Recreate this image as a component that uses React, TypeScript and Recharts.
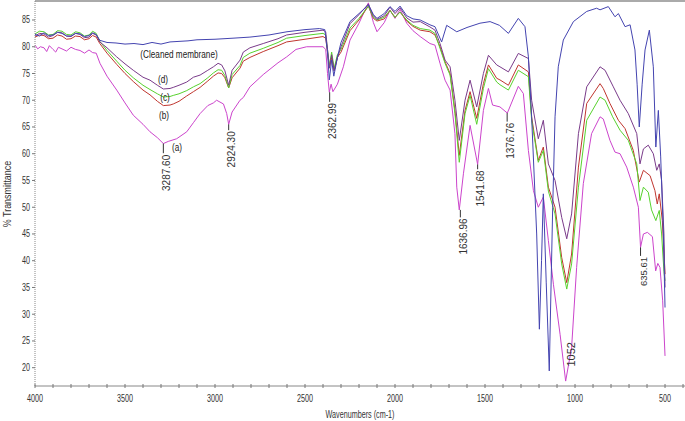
import React from 'react';
import { LineChart, Line, XAxis, YAxis, ReferenceLine, ReferenceDot } from 'recharts';

// [wavenumber (cm-1), % transmittance]
const cleaned: [number, number][] = [
  [4000, 82.3], [3975, 82.0], [3950, 82.6], [3925, 82.1], [3900, 82.2], [3875, 82.7], [3850, 82.5], [3825, 82.0],
  [3800, 82.0], [3775, 82.5], [3750, 82.4], [3725, 81.9], [3700, 82.1], [3680, 82.6], [3660, 82.3],
  [3640, 81.2], [3600, 80.8], [3550, 80.7], [3500, 80.5], [3450, 80.6], [3400, 80.4], [3350, 80.8], [3300, 80.5],
  [3250, 80.9], [3200, 81.0], [3150, 81.1], [3100, 81.3], [3000, 81.4], [2900, 81.6], [2806, 81.8], [2700, 82.2],
  [2600, 82.8], [2500, 83.2], [2420, 83.4], [2390, 83.2], [2375, 79], [2365, 73.8], [2352, 77.5], [2340, 74.5],
  [2320, 78], [2300, 80.8], [2250, 84.7], [2200, 86.2], [2148, 87.8], [2120, 86], [2100, 85.3], [2060, 86.2],
  [2028, 87.5], [2000, 86.6], [1972, 87.6], [1935, 85.8], [1900, 85.2], [1860, 85], [1806, 84.1], [1778, 83.75],
  [1741, 80.9], [1713, 84], [1657, 82.8], [1600, 83.6], [1528, 84.4], [1472, 84.7], [1420, 84], [1370, 82.5],
  [1315, 85.3], [1278, 83.75], [1259, 78.1], [1241, 66.9], [1213, 45], [1198, 27.2], [1186, 40], [1176, 52.5],
  [1160, 36], [1143, 19.4], [1124, 50], [1111, 66.9], [1093, 76.25], [1065, 81.25], [1009, 84.7], [935, 86.6],
  [880, 87.2], [861, 86.9], [815, 87.5], [778, 85.6], [759, 86.2], [722, 83.75], [694, 84.1], [667, 79.4],
  [655, 73], [643, 65], [627, 73], [611, 79.4], [587, 83.1], [565, 76.25], [551, 61.25], [537, 68.1],
  [524, 59.4], [509, 45], [500, 31.25],
];

const seriesD: [number, number][] = [
  [4000, 82.0], [3975, 82.5], [3950, 82.4], [3925, 81.8], [3900, 82.1], [3875, 82.7], [3850, 82.6], [3825, 82.0],
  [3800, 81.9], [3775, 82.5], [3750, 82.3], [3725, 81.7], [3700, 81.8], [3680, 82.5], [3660, 82.2],
  [3640, 80.9], [3600, 79.8], [3546, 78.1], [3500, 76.8], [3454, 75.6], [3400, 74.3], [3361, 73.75], [3320, 72.8],
  [3287, 72.1], [3250, 72.2], [3232, 72.4], [3200, 72.8], [3157, 73.4], [3120, 74.3], [3083, 74.7], [3040, 75.6],
  [3009, 76.25], [2983, 76.9], [2963, 76.6], [2945, 75.5], [2924, 72.8], [2905, 75.6], [2861, 77.5], [2843, 79],
  [2806, 79.8], [2732, 80.6], [2650, 81.5], [2602, 82.2], [2500, 82.7], [2400, 83.1], [2385, 82.8], [2375, 79.5],
  [2365, 76], [2352, 78.5], [2338, 75.5], [2320, 78], [2300, 80], [2250, 84.3], [2200, 86], [2148, 88],
  [2120, 85.8], [2100, 85.1], [2060, 85.8], [2028, 87.4], [2000, 86.2], [1972, 87.3], [1935, 85.4], [1900, 84.6],
  [1860, 84.7], [1806, 83.7], [1778, 83.1], [1750, 80.6], [1722, 77.5], [1694, 76.25], [1667, 70], [1643, 62.5],
  [1611, 70], [1583, 73.75], [1546, 68.75], [1509, 75], [1481, 78.4], [1435, 76.6], [1417, 76.25], [1370, 75.3],
  [1315, 78.75], [1259, 77.8], [1241, 70], [1204, 62.8], [1176, 66.25], [1148, 58.1], [1111, 55], [1074, 48.1],
  [1046, 44.1], [1019, 48.75], [981, 63.75], [935, 72.5], [861, 76.25], [833, 75.6], [787, 72.5], [750, 70],
  [704, 67.5], [657, 63.75], [639, 58.1], [620, 60.9], [593, 61.6], [565, 60], [546, 56.9], [532, 58.1],
  [519, 55], [506, 45], [500, 35],
];

const seriesC: [number, number][] = [
  [4000, 82.4], [3975, 82.9], [3950, 82.8], [3925, 82.2], [3900, 82.3], [3875, 83.0], [3850, 82.9], [3825, 82.3],
  [3800, 82.2], [3775, 82.8], [3750, 82.6], [3725, 82.0], [3700, 82.2], [3680, 82.9], [3660, 82.5],
  [3640, 81], [3600, 79.3], [3546, 77.3], [3500, 75.6], [3454, 74.2], [3400, 72.8], [3361, 72], [3320, 71.2],
  [3287, 70.6], [3250, 70.7], [3232, 70.9], [3200, 71.2], [3157, 71.8], [3120, 72.5], [3083, 73.1], [3040, 74.2],
  [3009, 75.1], [2983, 75.7], [2963, 75.6], [2945, 74.6], [2924, 72.3], [2905, 74.8], [2861, 76.5], [2843, 78],
  [2806, 78.8], [2732, 79.7], [2650, 80.8], [2602, 81.6], [2500, 82.1], [2400, 82.5], [2385, 82.2], [2375, 79.5],
  [2365, 76.5], [2352, 79], [2338, 76], [2320, 78.5], [2300, 79.5], [2250, 83.5], [2200, 85.3], [2148, 87.6],
  [2120, 85.5], [2100, 85], [2060, 85.5], [2028, 86.8], [2000, 85.5], [1972, 86.5], [1935, 85], [1900, 84],
  [1860, 83.4], [1806, 83.1], [1778, 82.5], [1750, 79.7], [1722, 76.9], [1694, 74.7], [1667, 67.5], [1643, 58.4],
  [1611, 67.5], [1583, 70.9], [1546, 65.5], [1509, 72.2], [1481, 75.9], [1435, 73.4], [1417, 72.9], [1370, 71.9],
  [1315, 75.6], [1259, 74.4], [1241, 66.25], [1204, 58.4], [1176, 60.6], [1148, 53], [1111, 48.75], [1074, 39.4],
  [1046, 34.7], [1019, 39.4], [981, 53.75], [935, 66.25], [861, 70.6], [833, 70], [791, 66.9], [750, 64.4],
  [704, 62.5], [657, 58.1], [639, 51.25], [620, 53.75], [593, 52.8], [575, 49.5], [551, 47.5], [532, 49.4],
  [519, 45], [506, 38], [500, 36.25],
];

const seriesB: [number, number][] = [
  [4000, 81.8], [3975, 82.2], [3950, 82.1], [3925, 81.5], [3900, 81.6], [3875, 82.2], [3850, 82.0], [3825, 81.4],
  [3800, 81.5], [3775, 82.0], [3750, 81.9], [3725, 81.3], [3700, 81.5], [3680, 82.1], [3660, 81.8],
  [3640, 80.6], [3600, 78.8], [3546, 76.7], [3500, 75], [3454, 73.5], [3400, 71.9], [3361, 71], [3320, 69.8],
  [3287, 69], [3250, 69.1], [3232, 69.3], [3200, 69.8], [3157, 70.8], [3120, 71.6], [3083, 72.4], [3040, 73.6],
  [3009, 74.5], [2983, 75.1], [2963, 75], [2945, 74.2], [2924, 72.3], [2905, 74.2], [2861, 76], [2843, 77.3],
  [2806, 78], [2732, 79.1], [2650, 80.2], [2602, 80.9], [2500, 81.4], [2400, 81.9], [2385, 81.6], [2375, 79],
  [2365, 76], [2352, 78], [2338, 75.5], [2320, 78], [2300, 79], [2250, 83], [2200, 85], [2148, 87.6],
  [2120, 85.3], [2100, 84.8], [2060, 85.2], [2028, 86.8], [2000, 85.5], [1972, 86.5], [1935, 84.8], [1900, 83.8],
  [1860, 83.1], [1806, 82.8], [1778, 82.2], [1750, 80], [1722, 77.2], [1694, 75], [1667, 68.1], [1643, 59.7],
  [1611, 68.1], [1583, 71.6], [1546, 66.6], [1509, 73.1], [1481, 76.6], [1435, 74.1], [1417, 73.8], [1370, 72.8],
  [1315, 76.6], [1259, 75.3], [1241, 66.9], [1204, 58.75], [1176, 61.25], [1148, 53.75], [1111, 50], [1074, 40.6],
  [1046, 35.9], [1019, 41.25], [981, 57.5], [935, 69.4], [861, 73.1], [843, 72.2], [806, 69.4], [759, 66.25],
  [722, 64.7], [676, 60.6], [643, 54.7], [620, 56.9], [583, 55.9], [556, 53.1], [543, 50.6], [532, 52.5],
  [515, 47.5], [500, 37.5],
];

const seriesA: [number, number][] = [
  [4000, 80.3], [3985, 79.6], [3970, 80.0], [3950, 79.8], [3935, 79.1], [3920, 80.2], [3900, 79.5], [3885, 79.0],
  [3870, 79.9], [3850, 79.6], [3825, 79.2], [3800, 79.9], [3775, 79.5], [3750, 79.3], [3725, 78.8], [3700, 79.4],
  [3680, 78.9], [3660, 78.8], [3639, 76.9], [3600, 74.5], [3546, 71.9], [3500, 69.5], [3454, 67.2],
  [3400, 65.5], [3361, 64.1], [3320, 63], [3287, 61.9], [3260, 62.3], [3213, 62.8], [3157, 64.1], [3120, 65.8],
  [3083, 67.5], [3040, 69], [3009, 69.5], [2991, 70], [2953, 69.3], [2935, 67.5], [2924, 65.5], [2905, 67.8],
  [2861, 70], [2843, 70.5], [2806, 72.5], [2732, 74.8], [2650, 77], [2602, 78.1], [2550, 79.5], [2491, 80],
  [2400, 80], [2385, 79.5], [2375, 75], [2365, 71.5], [2355, 73], [2345, 71.6], [2320, 73], [2287, 76.25],
  [2250, 81.25], [2200, 84.4], [2148, 88.2], [2120, 84.5], [2100, 82.8], [2060, 84.5], [2028, 86.8], [2000, 85.3],
  [1972, 87], [1935, 84.4], [1900, 83], [1860, 81.9], [1806, 80.6], [1778, 80.3], [1750, 76.9], [1722, 73.75],
  [1694, 71.9], [1667, 63.75], [1657, 53.75], [1643, 49.5], [1620, 56.25], [1583, 65.3], [1541, 58], [1509, 68.1],
  [1481, 72.2], [1458, 69.1], [1417, 68.75], [1376, 67.6], [1315, 72.6], [1287, 71.25], [1259, 60.6], [1231, 53.1],
  [1204, 50], [1176, 51.9], [1148, 43.75], [1120, 35.6], [1083, 26.25], [1052, 17.5], [1019, 23.75], [991, 38.75],
  [954, 54.4], [908, 63.75], [861, 66.9], [843, 66.5], [806, 62.5], [778, 60.3], [750, 60], [713, 57.5],
  [676, 53.75], [648, 50], [636, 42.5], [620, 45], [598, 45.3], [570, 44.5], [552, 38.1], [540, 39.5],
  [528, 38.75], [513, 32.5], [500, 22.2],
];

const xTicks = [4000, 3900, 3800, 3700, 3600, 3500, 3400, 3300, 3200, 3100, 3000, 2900, 2800, 2700, 2600, 2500,
  2400, 2300, 2200, 2100, 2000, 1900, 1800, 1700, 1600, 1500, 1400, 1300, 1200, 1100, 1000, 900, 800, 700, 600, 500, 400];
const xLabels = [4000, 3500, 3000, 2500, 2000, 1500, 1000, 500];
const yTicks = [20, 25, 30, 35, 40, 45, 50, 55, 60, 65, 70, 75, 80, 85];

// peak annotations: label, wavenumber, top of text, leader line from/to (in % T)
const peakLabels = [
  { text: '3287.60', wn: 3287, top: 59.8, from: 61.9, to: 60.1, size: 10 },
  { text: '2924.30', wn: 2924, top: 64.2, from: 65.5, to: 64.4, size: 10 },
  { text: '2362.99', wn: 2363, top: 69.5, from: 71.5, to: 69.7, size: 10 },
  { text: '1636.96', wn: 1637, top: 47.9, from: 49.5, to: 48.1, size: 10 },
  { text: '1541.68', wn: 1541, top: 56.9, from: 58, to: 57.1, size: 10 },
  { text: '1376.76', wn: 1377, top: 65.8, from: 67.6, to: 66, size: 10 },
  { text: '1052', wn: 1040, top: 24.8, from: null, to: null, size: 11 },
  { text: '635.61', wn: 636, top: 40.7, from: 42.5, to: 40.9, size: 9.5 },
];
const curveLabels = [
  { text: '(Cleaned membrane)', wn: 3200, t: 78.5 },
  { text: '(d)', wn: 3289, t: 73.8 },
  { text: '(c)', wn: 3278, t: 70.6 },
  { text: '(b)', wn: 3283, t: 67.2 },
  { text: '(a)', wn: 3211, t: 61.1 },
];

const toRows = (arr: [number, number][]) => arr.map(([wn, t]) => ({ wn, t }));

const SANS = '"Liberation Sans", Arial, sans-serif';

// horizontally condensed text (the reference uses a narrow face)
const NText = ({ x, y, sx = 0.7, rot = 0, children, ...rest }: any) => (
  <text
    transform={`translate(${x} ${y}) rotate(${rot}) scale(${sx} 1)`}
    x={0}
    y={0}
    fontFamily={SANS}
    fill="#333"
    {...rest}
  >
    {children}
  </text>
);

const XTick = (props: any) => {
  const { x, y, payload } = props;
  const v = payload.value;
  return (
    <g>
      <line x1={x} x2={x} y1={y - 2} y2={y + 2} stroke="#777" strokeWidth={1} />
      {xLabels.includes(v) && (
        <NText x={x} y={y + 16} textAnchor="middle" fontSize={10} sx={0.72}>{v}</NText>
      )}
    </g>
  );
};

const YTick = (props: any) => {
  const { x, y, payload } = props;
  return (
    <g>
      <line x1={x - 3} x2={x} y1={y} y2={y} stroke="#777" strokeWidth={1} />
      <NText x={x - 5} y={y + 3.5} textAnchor="end" fontSize={10} sx={0.72}>{payload.value}</NText>
    </g>
  );
};

const series = [
  { name: 'a', data: seriesA, color: '#cc44cc' },
  { name: 'b', data: seriesB, color: '#c0362f' },
  { name: 'c', data: seriesC, color: '#58d22e' },
  { name: 'd', data: seriesD, color: '#7a3b8a' },
  { name: 'cleaned', data: cleaned, color: '#4444b0' },
];

export default function App() {
  return (
    <div style={{ position: 'absolute', left: 0, top: 0, width: 685, height: 421, background: '#fff' }}>
      <LineChart width={685} height={421} margin={{ top: 1, right: 0, bottom: 0, left: 0 }}>
        <XAxis
          dataKey="wn"
          type="number"
          domain={[389, 4000]}
          reversed
          allowDataOverflow
          ticks={xTicks}
          interval={0}
          tick={<XTick />}
          tickLine={false}
          tickSize={0}
          tickMargin={0}
          height={35}
          axisLine={{ stroke: '#888' }}
          label={{
            content: () => (
              <NText x={360} y={418} textAnchor="middle" fontSize={10} sx={0.72}>Wavenumbers (cm-1)</NText>
            ),
          }}
        />
        <YAxis
          dataKey="t"
          type="number"
          domain={[16.58, 88.55]}
          allowDataOverflow
          ticks={yTicks}
          interval={0}
          tick={<YTick />}
          tickLine={false}
          tickSize={0}
          tickMargin={0}
          width={35}
          axisLine={{ stroke: '#888', strokeDasharray: '1 1' }}
          label={{
            content: () => (
              <NText x={10.5} y={194} rot={-90} sx={0.85} textAnchor="middle" fontSize={10.5}>% Transmittance</NText>
            ),
          }}
        />
        <ReferenceLine y={88.55} stroke="#aaa" strokeWidth={2} ifOverflow="visible" />
        {series.map((s) => (
          <Line
            key={s.name}
            data={toRows(s.data)}
            dataKey="t"
            type="linear"
            stroke={s.color}
            strokeWidth={1}
            dot={false}
            isAnimationActive={false}
          />
        ))}
        {peakLabels.filter((p) => p.from !== null).map((p) => (
          <ReferenceLine
            key={'l' + p.text}
            segment={[{ x: p.wn, y: p.from as number }, { x: p.wn, y: p.to as number }]}
            stroke="#333"
            strokeWidth={1}
            ifOverflow="visible"
          />
        ))}
        {peakLabels.map((p) => (
          <ReferenceDot
            key={'t' + p.text}
            x={p.wn}
            y={p.top}
            r={0}
            ifOverflow="visible"
            shape={(props: any) => (
              <text
                x={props.cx + 3}
                y={props.cy}
                transform={`rotate(-90 ${props.cx + 3} ${props.cy})`}
                textAnchor="end"
                dominantBaseline="central"
                fontSize={p.size}
                fill="#333"
                fontFamily={SANS}
              >{p.text}</text>
            )}
          />
        ))}
        {curveLabels.map((c) => (
          <ReferenceDot
            key={'c' + c.text}
            x={c.wn}
            y={c.t}
            r={0}
            ifOverflow="visible"
            shape={(props: any) => (
              <NText x={props.cx} y={props.cy + 3.5} textAnchor="middle" fontSize={10.5} sx={0.78} fill="#222">{c.text}</NText>
            )}
          />
        ))}
      </LineChart>
    </div>
  );
}
